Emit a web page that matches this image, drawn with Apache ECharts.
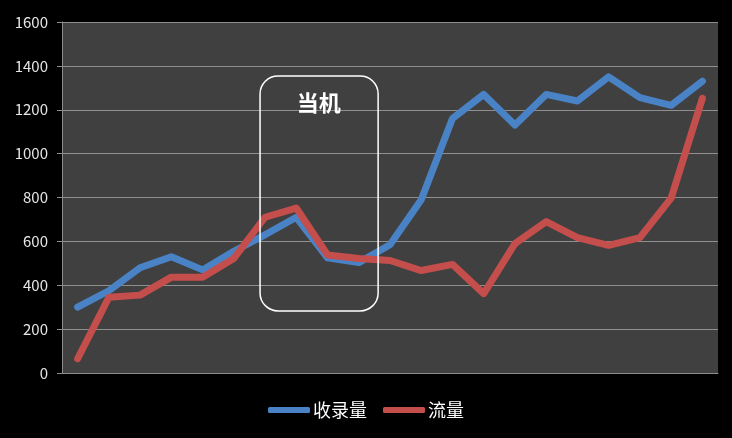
<!DOCTYPE html>
<html>
<head>
<meta charset="utf-8">
<script src="https://cdn.jsdelivr.net/npm/echarts@6/dist/echarts.min.js"></script>
<style>
html,body{margin:0;padding:0;background:#000;}
#c{width:732px;height:438px;}
</style>
</head>
<body>
<div id="c"></div>
<script>
const categories = ['1','2','3','4','5','6','7','8','9','10','11','12','13','14','15','16','17','18','19','20','21'];
const seriesNames = ['收录量', '流量'];
const indexedValues = [300, 375, 480, 530, 470, 555, 630, 710, 525, 503, 585, 790, 1160, 1270, 1130, 1270, 1240, 1350, 1255, 1220, 1330];
const trafficValues = [65, 345, 355, 437, 437, 522, 710, 752, 538, 522, 513, 467, 495, 362, 590, 690, 617, 582, 617, 797, 1252];
const yTicks = {min: 0, max: 1600, interval: 200};
const annotationText = '当机';
// annotation box in data space: [category index from, to], [value from, to]
const annotationBox = {x0: 5.84, x1: 9.62, y0: 283, y1: 1354, textX: 7.72, textY: 1232};

const FONT = '"Noto Sans CJK SC", "Noto Sans", sans-serif';
const chart = echarts.init(document.getElementById('c'));
chart.setOption({
  backgroundColor: '#000000',
  animation: false,
  textStyle: {fontFamily: FONT},
  grid: {left: 62, right: 14, top: 22, bottom: 65, show: true, backgroundColor: '#404040', borderWidth: 0},
  legend: {
    data: seriesNames,
    bottom: 14,
    left: 'center',
    icon: 'roundRect',
    itemWidth: 42,
    itemHeight: 6,
    itemGap: 16,
    textStyle: {color: '#ffffff', fontSize: 18, fontFamily: FONT, padding: [0, 0, 0, -2]}
  },
  xAxis: {
    type: 'category',
    data: categories,
    boundaryGap: true,
    axisLine: {show: true, lineStyle: {color: '#8c8c8c', width: 1}},
    axisTick: {show: false},
    axisLabel: {show: false},
    splitLine: {show: false}
  },
  yAxis: {
    type: 'value',
    min: yTicks.min, max: yTicks.max, interval: yTicks.interval,
    axisLine: {show: true, lineStyle: {color: '#8c8c8c', width: 1}},
    axisTick: {show: true, length: 5, lineStyle: {color: '#8c8c8c'}},
    axisLabel: {color: '#e6e6e6', fontSize: 15, margin: 14, fontFamily: FONT, formatter: function (v) { return String(v); }},
    splitLine: {show: true, lineStyle: {color: '#8f8f8f', width: 1}}
  },
  series: [
    {name: seriesNames[0], type: 'line', data: indexedValues, showSymbol: false, symbol: 'none',
     color: '#4A82C6', lineStyle: {width: 7, cap: 'round', join: 'round', color: '#4A82C6'}, z: 2},
    {name: seriesNames[1], type: 'line', data: trafficValues, showSymbol: false, symbol: 'none',
     color: '#C44E4B', lineStyle: {width: 7, cap: 'round', join: 'round', color: '#C44E4B'}, z: 3}
  ]
});

function px(i, v) {
  const a = chart.convertToPixel({gridIndex: 0}, [0, v]);
  const b = chart.convertToPixel({gridIndex: 0}, [1, v]);
  return [a[0] + (b[0] - a[0]) * i, a[1]];
}
const tl = px(annotationBox.x0, annotationBox.y1);
const br = px(annotationBox.x1, annotationBox.y0);
const tp = px(annotationBox.textX, annotationBox.textY);
chart.setOption({
  graphic: [
    {type: 'rect', shape: {x: tl[0], y: tl[1], width: br[0] - tl[0], height: br[1] - tl[1], r: 18},
     style: {fill: 'none', stroke: '#ffffff', lineWidth: 1.5}, z: 10},
    {type: 'text', x: tp[0], y: tp[1],
     style: {text: annotationText, fill: '#ffffff', font: 'bold 22px ' + FONT, textAlign: 'center', textVerticalAlign: 'middle'}, z: 11}
  ]
});
</script>
</body>
</html>
